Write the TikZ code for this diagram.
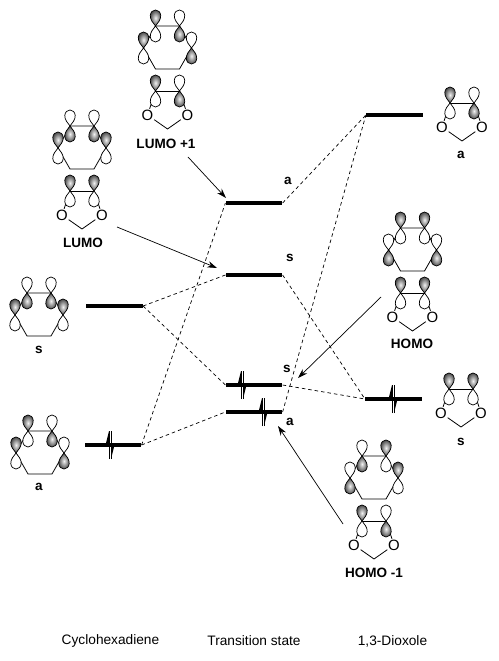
\documentclass[tikz,border=0pt]{standalone}
\usepackage{fontspec}
\setmainfont{Liberation Sans}
\usetikzlibrary{arrows.meta}

% one p orbital: centre, -1 shaded lobe up / 1 shaded lobe down
\newcommand{\porb}[2]{%
  \begin{scope}[shift={(#1)}, yscale=#2]
    \draw[lobeplain] (0,0) .. controls (-2,-3) and (-5.5,-6) .. (-5.2,-10.5)
                           .. controls (-5,-14) and (-2.5,-16) .. (0,-16)
                           .. controls (2.5,-16) and (5,-14) .. (5.2,-10.5)
                           .. controls (5.5,-6) and (2,-3) .. (0,0);
    \draw[lobeshade] (0,0) .. controls (-2,3) and (-5.5,6) .. (-5.2,10.5)
                           .. controls (-5,14) and (-2.5,16) .. (0,16)
                           .. controls (2.5,16) and (5,14) .. (5.2,10.5)
                           .. controls (5.5,6) and (2,3) .. (0,0);
  \end{scope}}

% cyclohexadiene: centre of top bond, then top left, top right, side left, side right
\newcommand{\hexa}[6]{%
  \begin{scope}[shift={(#1,#2)}]
    \draw[bond] (-12,0) -- (12,0) -- (24,22) -- (12,43) -- (-12,43) -- (-24,22) -- cycle;
    \porb{-24,22}{#5}
    \porb{24,22}{#6}
    \porb{-12,0}{#3}
    \porb{12,0}{#4}
  \end{scope}}

% dioxole: name, centre of top bond, then top left, top right
\newcommand{\diox}[5]{%
  \begin{scope}[shift={(#2,#3)}]
    \node[oxy] (#1l) at (-20,24) {O};
    \node[oxy] (#1r) at (20,24) {O};
    \coordinate (#1b) at (0,38);
    \draw[bond] (#1l) -- (#1b) -- (#1r);
    \draw[bond] (-12,0) -- (12,0);
    \draw[bond] (-12,0) -- (#1l);
    \draw[bond] (12,0) -- (#1r);
    \porb{-12,0}{#4}
    \porb{12,0}{#5}
  \end{scope}}

% electron pair on a level
\newcommand{\elec}[2]{%
  \begin{scope}[shift={(#1,#2)}]
    \draw[spin] (-1,14) -- (-1,-14);
    \fill (-1,-14) -- (-1,0) -- (-4.5,0) -- cycle;
    \draw[spin] (1,-14) -- (1,14);
    \fill (1,14) -- (1,0) -- (4.5,0) -- cycle;
  \end{scope}}

\begin{document}
\begin{tikzpicture}[
    x=0.02cm, y=-0.02cm,
    level/.style={rectangle, fill=black, inner sep=0pt,
                  minimum width=1.13cm, minimum height=0.075cm},
    corr/.style={line width=0.4pt, dash pattern=on 2pt off 1.7pt},
    arr/.style={-{Stealth[length=5.5pt, width=3.6pt]}, line width=0.4pt},
    bond/.style={line width=0.45pt},
    spin/.style={line width=0.35pt},
    lobeplain/.style={draw=black, line width=0.4pt, fill=white},
    lobeshade/.style={draw=black, line width=0.4pt, shade,
                      inner color=gray!10, outer color=black!70},
    oxy/.style={fill=white, inner sep=0.3pt, font=\fontsize{8.5}{9}\selectfont},
    lab/.style={font=\fontsize{7.7}{9}\selectfont\bfseries, inner sep=0pt},
    captext/.style={font=\fontsize{7.8}{9}\selectfont, inner sep=0pt},
]
  \useasboundingbox (0,0) rectangle (499,661);

  % levels
  \node[level] (lefts)  at (114.5, 306) {};
  \node[level] (lefta)  at (113, 445) {};
  \node[level] (tsa)    at (254, 203) {};
  \node[level] (tss)    at (254, 275) {};
  \node[level] (tslows) at (254, 385) {};
  \node[level] (tslowa) at (254, 412) {};
  \node[level] (righta) at (394.5, 115) {};
  \node[level] (rights) at (393.5, 399) {};

  % correlation lines
  \draw[corr] (lefts.east) -- (tss.west);
  \draw[corr] (lefts.east) -- (tslows.west);
  \draw[corr] (lefta.east) -- (tslowa.west);
  \draw[corr] (lefta.east) -- (tsa.west);
  \draw[corr] (tsa.east) -- (righta.west);
  \draw[corr] (tslowa.east) -- (righta.west);
  \draw[corr] (tss.east) -- (rights.west);
  \draw[corr] (tslows.east) -- (rights.west);

  % electrons
  \elec{110}{445}
  \elec{242}{385}
  \elec{263}{412}
  \elec{393}{399}

  % molecules
  \hexa{167.5}{26}{-1}{1}{-1}{1}
  \diox{lumoa}{167.5}{91}{-1}{1}
  \hexa{82}{126}{1}{1}{-1}{-1}
  \diox{lumo}{82}{191}{-1}{-1}
  \hexa{39}{293}{1}{1}{-1}{-1}
  \hexa{40}{431}{-1}{1}{-1}{1}
  \diox{righttop}{462}{103}{-1}{1}
  \hexa{412.5}{228}{-1}{-1}{1}{1}
  \diox{homo}{412.5}{293}{-1}{-1}
  \diox{rightlow}{461}{389}{-1}{-1}
  \hexa{374}{456}{1}{-1}{1}{-1}
  \diox{homob}{374}{521}{-1}{1}

  % labels
  \node[lab] (lumoalab) at (166, 144) {LUMO +1};
  \node[lab] (lumolab)  at (83, 243) {LUMO};
  \node[lab] (slab)     at (39, 350) {s};
  \node[lab] (alab)     at (39, 487) {a};
  \node[lab] (rightalab) at (461, 155) {a};
  \node[lab] (homolab)  at (412, 344) {HOMO};
  \node[lab] (rightslab) at (461, 442) {s};
  \node[lab] (homoblab) at (374, 573) {HOMO -1};
  \node[lab] (tsalab)   at (288, 181) {a};
  \node[lab] (tsslab)   at (290, 258) {s};
  \node[lab] (tslowslab) at (287, 369) {s};
  \node[lab] (tslowalab) at (290, 422) {a};

  % arrows from the labels to the levels
  \coordinate (lumoastart) at (188, 157);
  \coordinate (lumoaend)   at (226, 198);
  \coordinate (lumostart)  at (117, 227);
  \coordinate (lumoend)    at (217, 268);
  \coordinate (homostart)  at (381, 297);
  \coordinate (homoend)    at (298, 378);
  \coordinate (homobstart) at (343, 524);
  \coordinate (homobend)   at (278, 426);
  \draw[arr] (lumoastart) -- (lumoaend);
  \draw[arr] (lumostart) -- (lumoend);
  \draw[arr] (homostart) -- (homoend);
  \draw[arr] (homobstart) -- (homobend);

  % captions
  \node[captext] (capleft)  at (110.5, 641) {Cyclohexadiene};
  \node[captext] (capts)    at (254, 641) {Transition state};
  \node[captext] (capright) at (392.5, 641) {1,3-Dioxole};
\end{tikzpicture}
\end{document}
